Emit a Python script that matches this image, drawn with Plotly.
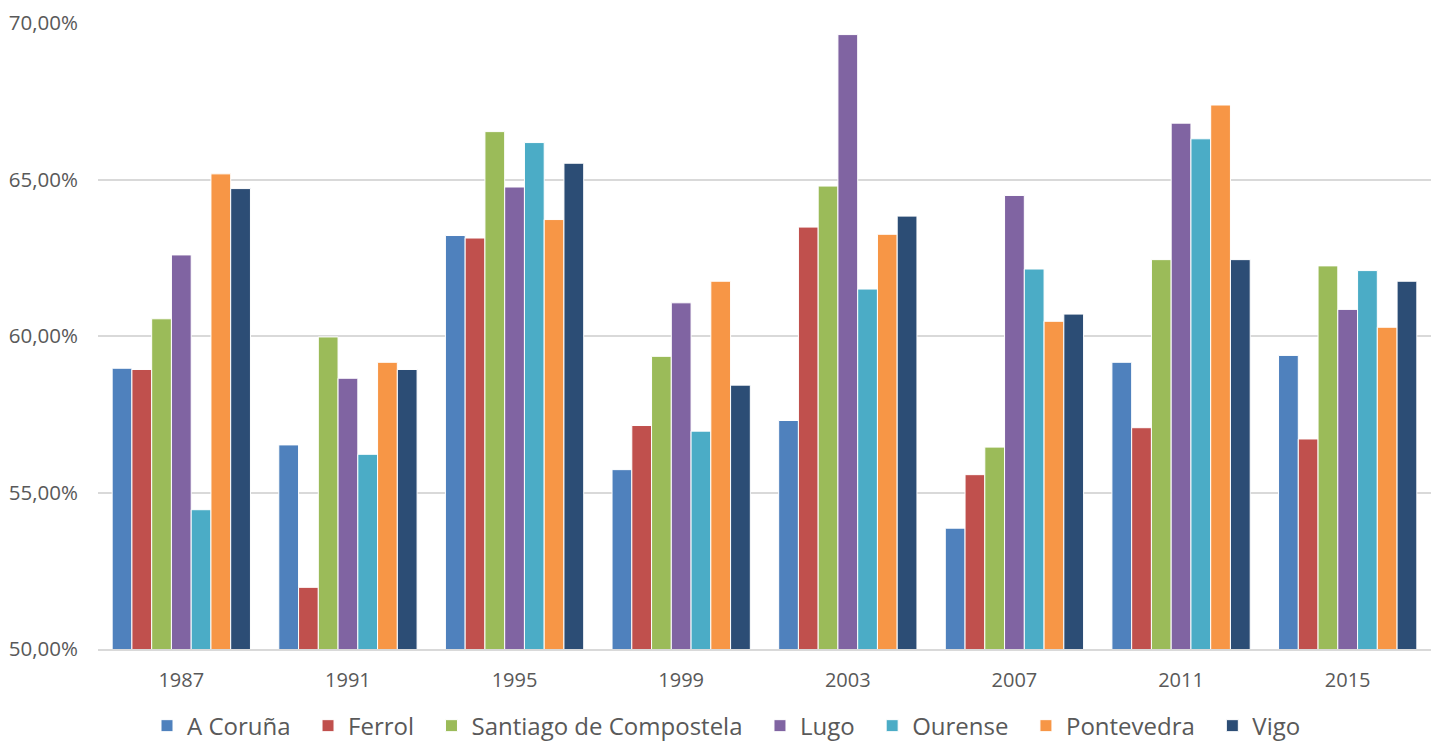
import plotly.graph_objects as go

years = ["1987", "1991", "1995", "1999", "2003", "2007", "2011", "2015"]

a_coruna = [58.97, 56.52, 63.21, 55.73, 57.30, 53.86, 59.16, 59.38]
ferrol = [58.93, 51.97, 63.13, 57.14, 63.48, 55.57, 57.07, 56.71]
santiago = [60.55, 59.97, 66.53, 59.35, 64.79, 56.45, 62.44, 62.24]
lugo = [62.59, 58.65, 64.76, 61.06, 69.63, 64.49, 66.80, 60.85]
ourense = [54.45, 56.22, 66.18, 56.96, 61.50, 62.14, 66.30, 62.09]
pontevedra = [65.18, 59.16, 63.72, 61.75, 63.25, 60.47, 67.38, 60.28]
vigo = [64.71, 58.93, 65.52, 58.43, 63.83, 60.70, 62.44, 61.75]

series = [
    ("A Coruña", a_coruna, "#4F81BD"),
    ("Ferrol", ferrol, "#C0504D"),
    ("Santiago de Compostela", santiago, "#9BBB59"),
    ("Lugo", lugo, "#8064A2"),
    ("Ourense", ourense, "#4BACC6"),
    ("Pontevedra", pontevedra, "#F79646"),
    ("Vigo", vigo, "#2C4D75"),
]

fig = go.Figure()
for name, vals, color in series:
    fig.add_trace(go.Bar(
        x=years, y=[v / 100 for v in vals], name=name + "\u00a0\u00a0",
        marker=dict(color=color, line=dict(color="white", width=1)),
    ))

fig.update_layout(
    width=1433, height=749,
    barmode="group", bargap=0.17, bargroupgap=0,
    separators=",.",
    paper_bgcolor="white", plot_bgcolor="white",
    font=dict(family="Open Sans, DejaVu Sans, sans-serif", color="#595959"),
    margin=dict(l=98, r=2, t=23, b=99),
    yaxis=dict(
        range=[0.5, 0.7], tickvals=[0.5, 0.55, 0.6, 0.65, 0.7], tickformat=".2%",
        showgrid=True, gridcolor="#D9D9D9", gridwidth=1.5, zeroline=False,
        showline=False, ticks="", tickfont=dict(size=20.5, color="#595959"),
        ticklabelstandoff=19,
    ),
    xaxis=dict(
        type="category", showline=True, linecolor="#D9D9D9", linewidth=1.5,
        ticks="", tickfont=dict(size=20, color="#595959"), ticklabelstandoff=12,
    ),
    legend=dict(
        orientation="h", x=0.476, xanchor="center", y=-0.1572, yanchor="bottom",
        font=dict(size=24, color="#595959"), itemwidth=30, traceorder="normal",
    ),
)

post = (
    "var d=document.getElementById('{plot_id}');"
    "d.style.position='fixed';d.style.top='0';d.style.left='0';"
    "document.body.style.margin='0';document.body.style.overflow='hidden';"
)
fig.write_html("out.html", config={"displayModeBar": False}, post_script=post)
